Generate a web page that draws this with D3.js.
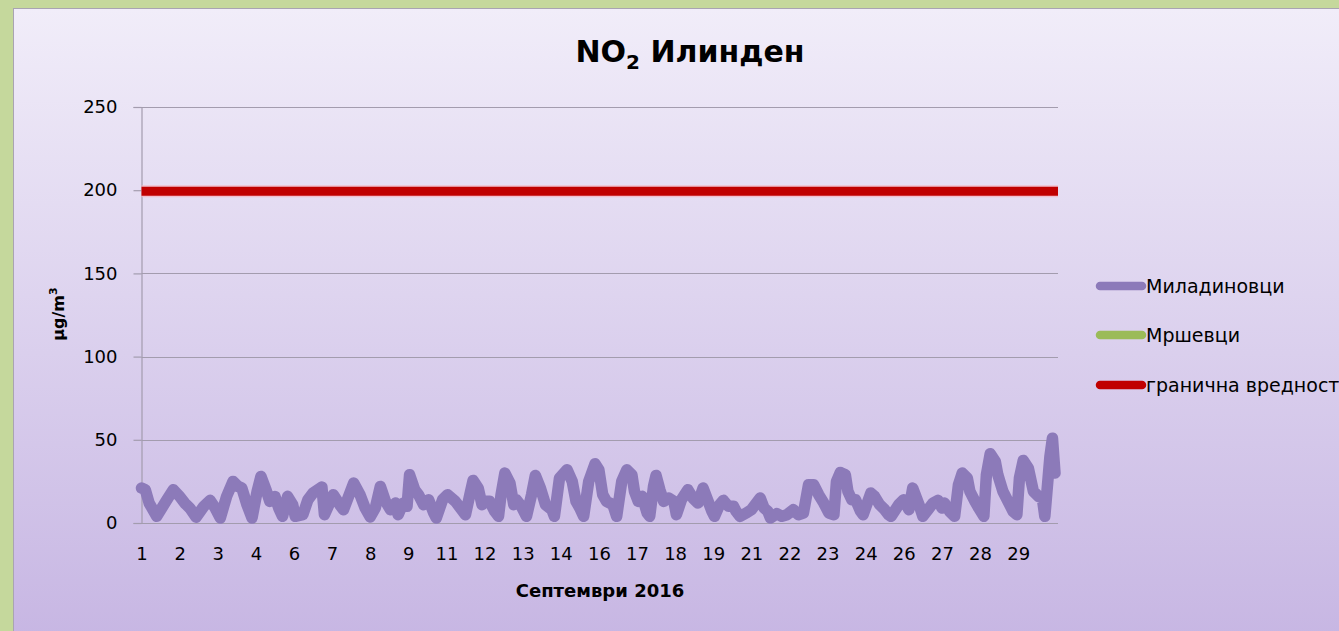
<!DOCTYPE html>
<html>
<head>
<meta charset="utf-8">
<script src="https://cdn.jsdelivr.net/npm/d3@7"></script>
<style>
  html, body { margin: 0; padding: 0; background: #c5d89c; }
  svg { display: block; }
  text { font-family: "DejaVu Sans", "Noto Sans", sans-serif; fill: #000; }
</style>
</head>
<body>
<svg id="chart" width="1339" height="631"></svg>
<script>
// ---------------- data ----------------
const chartTitle = "NO";
const chartTitleSub = "2";
const chartTitleRest = " Илинден";
const xAxisTitle = "Септември 2016";
const yAxisTitle = "μg/m";
const yAxisTitleSup = "3";

// x category labels: one label every 30 hourly points
const xTickLabels = ["1","2","3","4","6","7","8","9","11","12","13","14","16","17","18","19","21","22","23","24","26","27","28","29"];
const xLabelInterval = 30;
const totalHours = 720;

const yTicks = [0, 50, 100, 150, 200, 250];

const seriesNames = ["Миладиновци", "Мршевци", "гранична вредност"];
const seriesColors = ["#8c7ab9", "#9bbb59", "#c00000"];

// Миладиновци: hour index -> µg/m³
const miladinovciHours = [0,3,6,12,16,20,25,30,34,38,43,49,54,58,62,67,72,76,79,83,87,91,94,98,101,105,108,111,115,119,
  121,127,131,135,142,144,151,156,159,167,172,176,180,184,188,192,196,200,202,206,209,211,215,218,222,226,230,232,237,241,
  247,251,255,259,261,265,268,270,274,278,281,283,286,290,293,295,299,303,307,310,314,318,323,325,329,335,339,342,345,348,
  352,357,360,363,366,371,374,378,382,386,388,391,394,398,400,403,405,408,411,415,419,421,425,430,434,438,442,445,449,451,
  455,458,462,466,468,471,476,480,484,487,490,493,495,500,504,508,513,517,521,525,529,533,537,541,545,547,550,554,556,559,
  562,566,568,574,577,581,585,588,590,596,600,604,607,612,615,619,623,627,630,632,636,640,643,646,650,652,656,659,663,665,
  668,672,674,678,682,686,689,691,694,698,702,706,709,711,715,717,719];
const miladinovciValues = [21,20,12,4,9,14,20,16,12,9,3.5,10,13.6,9,3,16,25,22,21,11,3,19,28,20,13,16,9,4,16,11,
  4,5,14,18,21.6,5,17,11,8,24,17,9,3.6,9,22,13,8,12,5,12,10,29,20,17,11,14,6,3,14,17,
  13,9,5,19,25.6,21,11,13,13,7,4,17,30,24,11,14,10,4,17,28.6,21,11,8,4,27,32,25,13,9,4,
  25,35.6,32,17,13,11,4,25,32,29,19,13,16,6,4,22,28.6,20,13,15,13,5,14,20,15,12,21,15,7,4,
  11,13.6,10,10,7,4,6,8,12,15,9,7,3,5.6,4,5,8,5,6,23,23,17,12,6,5,25,30.4,29,19,14,
  14,7,5,18,16,11,8,5,4,11,14,8,21,11,4,8,12,13.6,9,12,7,4,23,30,27,19,13,9,4,29,
  41.6,37,29,19,13,7,5,27,37.6,33,19,16,15,4,40,51,30];

// Мршевци: no values shown in the picture
const mrsevciHours = [];
const mrsevciValues = [];

// гранична вредност (limit value)
const limitValue = 200;

// ---------------- drawing ----------------
const svg = d3.select("#chart");
const W = 1339, H = 631;

const defs = svg.append("defs");
const grad = defs.append("linearGradient").attr("id", "bg").attr("x1", 0).attr("y1", 0).attr("x2", 0).attr("y2", 1);
grad.append("stop").attr("offset", "0%").attr("stop-color", "#f1edf9");
grad.append("stop").attr("offset", "100%").attr("stop-color", "#c7b6e3");

svg.append("rect").attr("x", 0).attr("y", 0).attr("width", W).attr("height", H).attr("fill", "#c5d89c");
svg.append("rect").attr("x", 13.5).attr("y", 8.5).attr("width", W).attr("height", H)
  .attr("fill", "url(#bg)").attr("stroke", "#a9a4b2").attr("stroke-width", 1);

const plotLeft = 141.5, plotRight = 1058, plotTop = 107, plotBottom = 523;

const x = d3.scaleLinear().domain([0, totalHours - 1]).range([plotLeft, 1055]);
const y = d3.scaleLinear().domain([0, 250]).range([plotBottom, plotTop]);

// gridlines
svg.append("g").selectAll("line").data(yTicks).join("line")
  .attr("x1", plotLeft).attr("x2", plotRight)
  .attr("y1", d => Math.round(y(d)) + 0.5).attr("y2", d => Math.round(y(d)) + 0.5)
  .attr("stroke", "#a39cae").attr("stroke-width", 1.2);

// y axis
const yAxis = d3.axisLeft(y).tickValues(yTicks).tickSize(8).tickPadding(16);
const gy = svg.append("g").attr("transform", `translate(${plotLeft},0)`).call(yAxis);
gy.select(".domain").attr("stroke", "#a39cae").attr("stroke-width", 1.2);
gy.selectAll(".tick line").attr("stroke", "#a39cae").attr("stroke-width", 1.2);
gy.selectAll(".tick text").style("font-size", "18px").style("font-family", "DejaVu Sans, sans-serif").attr("fill", "#111");

// x axis
const xAxis = d3.axisBottom(x)
  .tickValues(xTickLabels.map((d, i) => i * xLabelInterval))
  .tickFormat((d, i) => xTickLabels[i])
  .tickSize(0).tickPadding(24);
const gx = svg.append("g").attr("transform", `translate(0,${plotBottom})`).call(xAxis);
gx.select(".domain").remove();
gx.selectAll(".tick text").style("font-size", "18px").style("font-family", "DejaVu Sans, sans-serif").attr("fill", "#111");

// limit line
svg.append("line")
  .attr("x1", plotLeft).attr("x2", plotRight)
  .attr("y1", y(limitValue) + 1).attr("y2", y(limitValue) + 1)
  .attr("stroke", "#f4b8c4").attr("stroke-width", 12).attr("stroke-opacity", 0.8);
svg.append("line")
  .attr("x1", plotLeft).attr("x2", plotRight)
  .attr("y1", y(limitValue) + 1).attr("y2", y(limitValue) + 1)
  .attr("stroke", seriesColors[2]).attr("stroke-width", 9);

// series lines
const line = d3.line().x(d => x(d[0])).y(d => y(d[1]));
const mrsData = d3.zip(mrsevciHours, mrsevciValues);
if (mrsData.length) {
  svg.append("path").datum(mrsData).attr("d", line).attr("fill", "none")
    .attr("stroke", seriesColors[1]).attr("stroke-width", 11)
    .attr("stroke-linejoin", "round").attr("stroke-linecap", "round");
}
svg.append("path").datum(d3.zip(miladinovciHours, miladinovciValues)).attr("d", line)
  .attr("fill", "none").attr("stroke", seriesColors[0]).attr("stroke-width", 11.5)
  .attr("stroke-linejoin", "round").attr("stroke-linecap", "round");

// title
const title = svg.append("text").attr("x", 690).attr("y", 62).attr("text-anchor", "middle")
  .style("font-size", "30px").style("font-weight", "bold");
title.append("tspan").text(chartTitle);
title.append("tspan").text(chartTitleSub).style("font-size", "20px").attr("dy", 7);
title.append("tspan").text(chartTitleRest).attr("dy", -7);

// y axis title
const yt = svg.append("text").attr("transform", "translate(64,314) rotate(-90)")
  .attr("text-anchor", "middle").style("font-size", "16px").style("font-weight", "bold");
yt.append("tspan").text(yAxisTitle);
yt.append("tspan").text(yAxisTitleSup).style("font-size", "11px").attr("dy", -7);

// x axis title
svg.append("text").attr("x", 600).attr("y", 597).attr("text-anchor", "middle")
  .style("font-size", "18px").style("font-weight", "bold").text(xAxisTitle);

// legend
const legendY = [286, 335, 385];
const lg = svg.append("g").selectAll("g").data(seriesNames).join("g")
  .attr("transform", (d, i) => `translate(0,${legendY[i]})`);
lg.append("line").attr("x1", 1100).attr("x2", 1142).attr("y1", 0).attr("y2", 0)
  .attr("stroke", (d, i) => seriesColors[i]).attr("stroke-width", 8.5).attr("stroke-linecap", "round");
lg.append("text").attr("x", 1146).attr("y", 7).style("font-size", "19px").text(d => d);
</script>
</body>
</html>
